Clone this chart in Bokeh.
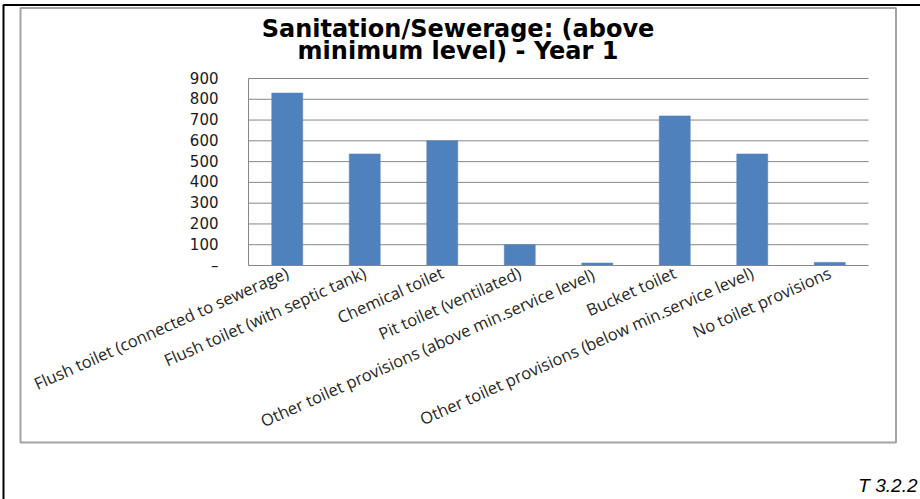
from bokeh.plotting import figure
from bokeh.models import Range1d, FixedTicker, Label, BoxAnnotation, CustomJSTickFormatter
from bokeh.embed import file_html
from bokeh.resources import INLINE

# Data
categories = [
    "Flush toilet (connected to sewerage)",
    "Flush toilet (with septic tank)",
    "Chemical toilet",
    "Pit toilet (ventilated)",
    "Other toilet provisions (above  min.service level)",
    "Bucket toilet",
    "Other toilet provisions (below min.service level)",
    "No toilet provisions",
]
households = [830, 537, 600, 100, 12, 720, 537, 15]
y_ticks = [0, 100, 200, 300, 400, 500, 600, 700, 800, 900]

title_lines = ["Sanitation/Sewerage: (above", "minimum level) - Year 1"]
table_ref = "T 3.2.2"

# Canvas and plotting-area geometry (pixels)
W, H = 920, 499
FL, FR, FT, FB = 248, 868, 78, 265
Y_MAX = 900
N = len(categories)

ux = (FR - FL) / N          # pixels per category slot
uy = (FB - FT) / Y_MAX      # pixels per unit of value


def sx(px):
    """Canvas pixel x -> data x."""
    return (px - FL) / ux


def sy(py):
    """Canvas pixel y (from top) -> data y."""
    return (FB - py) / uy


x_pos = [i + 0.5 for i in range(N)]

# The frame spans the whole canvas; axes are pinned at x=0 / y=0
p = figure(
    width=W, height=H,
    x_range=Range1d(sx(0), sx(W)),
    y_range=Range1d(sy(H), sy(0)),
    output_backend="svg",
    toolbar_location=None,
    min_border=0,
)
p.outline_line_color = None
p.background_fill_color = "white"
p.border_fill_color = "white"
p.xgrid.visible = False
p.ygrid.visible = False

# Horizontal gridlines across the category area
grid_y = [t for t in y_ticks if t > 0]
p.segment(x0=[0] * len(grid_y), x1=[N] * len(grid_y), y0=grid_y, y1=grid_y,
          line_color="#878787", line_width=1)

p.vbar(x=x_pos, top=households, width=0.4,
       fill_color="#4f81bd", line_color="#4f81bd", line_width=0.5)

# Y axis
p.yaxis.fixed_location = 0
p.yaxis.bounds = (0, Y_MAX)
p.yaxis.ticker = FixedTicker(ticks=y_ticks)
p.yaxis.formatter = CustomJSTickFormatter(
    code="return tick == 0 ? '\\u2013' : tick.toFixed(0);")
p.yaxis.axis_line_color = "#878787"
p.yaxis.major_tick_line_color = None
p.yaxis.minor_tick_line_color = None
p.yaxis.major_tick_out = 0
p.yaxis.major_tick_in = 0
p.yaxis.major_label_standoff = 30
p.yaxis.major_label_text_font = "DejaVu Sans"
p.yaxis.major_label_text_font_size = "15px"
p.yaxis.major_label_text_color = "#1a1a1a"

# X axis (category names)
p.xaxis.fixed_location = 0
p.xaxis.bounds = (0, N)
p.xaxis.ticker = FixedTicker(ticks=x_pos)
p.xaxis.formatter = CustomJSTickFormatter(
    args=dict(cats=categories), code="return cats[Math.floor(tick)];")
p.xaxis.axis_line_color = "#878787"
p.xaxis.major_tick_line_color = None
p.xaxis.minor_tick_line_color = None
p.xaxis.major_tick_out = 0
p.xaxis.major_tick_in = 0
p.xaxis.major_label_standoff = 6
p.xaxis.major_label_orientation = 0.42
p.xaxis.major_label_text_font = "Open Sans"
p.xaxis.major_label_text_font_size = "16.5px"
p.xaxis.major_label_text_color = "#262626"

# Chart area border and page edge
p.add_layout(BoxAnnotation(left=sx(20), right=sx(895.5), top=sy(7.5), bottom=sy(442),
                           fill_color=None, line_color="#a3a3a3", line_alpha=1.0,
                           line_width=2))
p.add_layout(BoxAnnotation(left=sx(3), right=sx(1000), top=sy(4.5), bottom=sy(700),
                           fill_color=None, line_color="black", line_alpha=1.0,
                           line_width=2))

# Title (two lines, centred on the chart area)
for line, base in zip(title_lines, [28, 50]):
    p.add_layout(Label(x=sx(457.5), y=sy(base), text=line,
                       text_align="center", text_baseline="alphabetic",
                       text_font="DejaVu Sans", text_font_style="bold",
                       text_font_size="24px", text_color="black"))

# Table reference
p.add_layout(Label(x=sx(917), y=sy(485), text=table_ref,
                   text_align="right", text_baseline="alphabetic",
                   text_font="Liberation Sans", text_font_style="italic",
                   text_font_size="19px", text_color="black"))

open("out.html", "w").write(file_html(p, INLINE))
